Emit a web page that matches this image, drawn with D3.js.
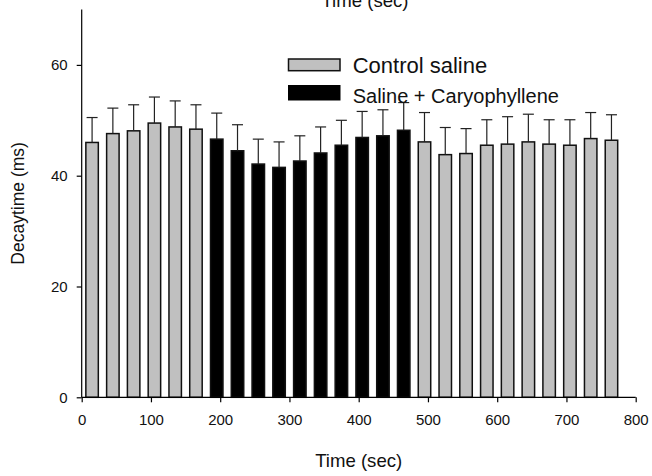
<!DOCTYPE html>
<html>
<head>
<meta charset="utf-8">
<script src="https://cdn.jsdelivr.net/npm/d3@7"></script>
<style>
  html, body { margin: 0; padding: 0; background: #fff; }
  svg { display: block; font-family: "Liberation Sans", Arial, sans-serif; }
</style>
</head>
<body>
<svg id="chart" width="652" height="476"></svg>
<script>
// ---- data ----
const times = [15, 45, 75, 105, 135, 165,
               195, 225, 255, 285, 315, 345, 375, 405, 435, 465,
               495, 525, 555, 585, 615, 645, 675, 705, 735, 765];
const conditions = ["control","control","control","control","control","control",
                    "cary","cary","cary","cary","cary","cary","cary","cary","cary","cary",
                    "control","control","control","control","control","control","control","control","control","control"];
const means = [46.0, 47.6, 48.1, 49.5, 48.8, 48.4,
               46.6, 44.5, 42.1, 41.5, 42.65, 44.1, 45.5, 46.9, 47.2, 48.2,
               46.1, 43.8, 44.0, 45.5, 45.7, 46.1, 45.7, 45.5, 46.7, 46.4];
const sems = [4.5, 4.6, 4.7, 4.7, 4.7, 4.4,
              4.7, 4.7, 4.5, 4.6, 4.55, 4.7, 4.5, 4.7, 4.7, 5.0,
              5.3, 4.9, 4.5, 4.6, 4.95, 5.0, 4.4, 4.6, 4.7, 4.6];
const xTicks = [0, 100, 200, 300, 400, 500, 600, 700, 800];
const yTicks = [0, 20, 40, 60];
const legendLabels = ["Control saline", "Saline + Caryophyllene"];
const xTitle = "Time (sec)";
const yTitle = "Decaytime (ms)";

const data = times.map((t, i) => ({ t, cond: conditions[i], mean: means[i], sem: sems[i] }));

// ---- layout ----
const svg = d3.select("#chart");
const x = d3.scaleLinear().domain([0, 800]).range([81.7, 635.7]);
const y = d3.scaleLinear().domain([0, 70]).range([397.3, 9.5]);
const barHalf = 9; // seconds
const fillFor = c => c === "control" ? "#c0c0c0" : "#000";

// bars
svg.append("g").selectAll("rect").data(data).join("rect")
  .attr("x", d => x(d.t - barHalf))
  .attr("width", d => x(d.t + barHalf) - x(d.t - barHalf))
  .attr("y", d => y(d.mean))
  .attr("height", d => y(0) - y(d.mean))
  .attr("fill", d => fillFor(d.cond))
  .attr("stroke", "#111")
  .attr("stroke-width", 1.5);

// error bars (upper only)
const eb = svg.append("g").attr("stroke", "#222").attr("stroke-width", 1.2).attr("fill", "none");
eb.selectAll("line.v").data(data).join("line").attr("class", "v")
  .attr("x1", d => x(d.t)).attr("x2", d => x(d.t))
  .attr("y1", d => y(d.mean)).attr("y2", d => y(d.mean + d.sem));
eb.selectAll("line.c").data(data).join("line").attr("class", "c")
  .attr("x1", d => x(d.t) - 5.5).attr("x2", d => x(d.t) + 5.5)
  .attr("y1", d => y(d.mean + d.sem)).attr("y2", d => y(d.mean + d.sem));

// axes
const xAxis = d3.axisBottom(x).tickValues(xTicks).tickSize(5).tickPadding(12).tickFormat(d3.format("d"));
const gx = svg.append("g").attr("transform", `translate(0,${y(0)})`).call(xAxis);
gx.select(".domain").attr("d", `M${x(0)},0H${x(800)}`).attr("stroke", "#000").attr("stroke-width", 1.2);
gx.selectAll(".tick line").attr("stroke", "#000").attr("stroke-width", 1.2);
gx.selectAll(".tick text").attr("font-size", 15).attr("fill", "#111")
  .attr("font-family", "Liberation Sans, Arial, sans-serif");

const yAxis = d3.axisLeft(y).tickValues(yTicks).tickSize(5).tickPadding(9).tickFormat(d3.format("d"));
const gy = svg.append("g").attr("transform", `translate(${x(0)},0)`).call(yAxis);
gy.select(".domain").attr("d", `M0,${y(0)}V${y(70)}`).attr("stroke", "#000").attr("stroke-width", 1.2);
gy.selectAll(".tick line").attr("stroke", "#000").attr("stroke-width", 1.2);
gy.selectAll(".tick text").attr("font-size", 15).attr("fill", "#111")
  .attr("font-family", "Liberation Sans, Arial, sans-serif");

// titles
svg.append("text").attr("x", x(400)).attr("y", 466.5).attr("text-anchor", "middle")
  .attr("font-size", 18.6).attr("fill", "#111").text(xTitle);
svg.append("text").attr("x", 365).attr("y", 6.5).attr("text-anchor", "middle")
  .attr("font-size", 18.6).attr("fill", "#111").text(xTitle);
svg.append("text").attr("transform", `translate(24,${(y(0) + y(70)) / 2}) rotate(-90)`)
  .attr("text-anchor", "middle").attr("font-size", 17.5).attr("fill", "#111").text(yTitle);

// legend
const leg = svg.append("g");
leg.append("rect").attr("x", 288.5).attr("y", 59).attr("width", 51.5).attr("height", 11.7)
  .attr("fill", fillFor("control")).attr("stroke", "#111").attr("stroke-width", 1.5);
leg.append("rect").attr("x", 288).attr("y", 85).attr("width", 52.5).attr("height", 15.5)
  .attr("fill", fillFor("cary"));
leg.append("text").attr("x", 352.7).attr("y", 72.7).attr("font-size", 22).attr("fill", "#111").text(legendLabels[0]);
leg.append("text").attr("x", 352.7).attr("y", 102.5).attr("font-size", 20).attr("fill", "#111").text(legendLabels[1]);
</script>
</body>
</html>
